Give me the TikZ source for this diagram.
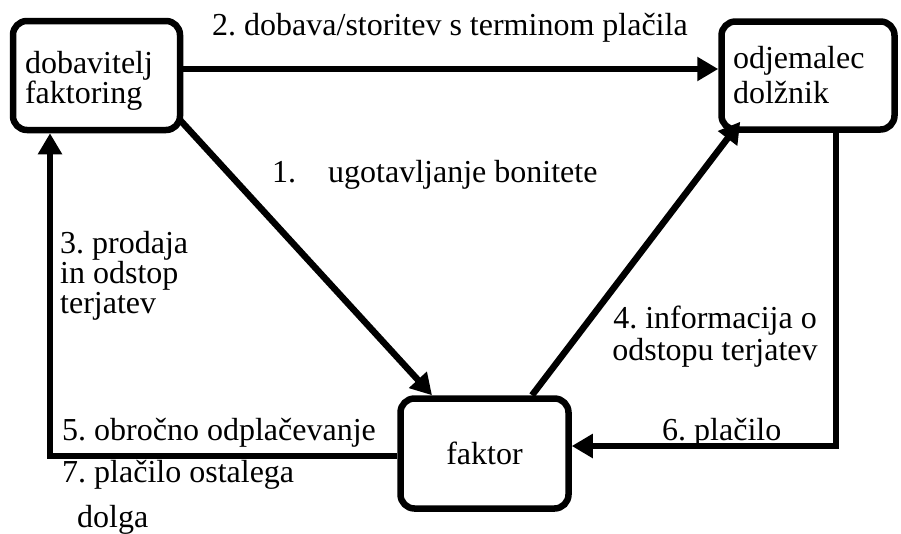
\documentclass[tikz,border=0pt]{standalone}
\usepackage{fontspec}
\setmainfont{Liberation Serif}
\usetikzlibrary{arrows.meta}
\frenchspacing
\begin{document}
\begin{tikzpicture}[x=1pt,y=-1pt,
  box/.style={draw=black, line width=6.5pt, rounded corners=14pt, inner ysep=0pt},
  arr/.style={line width=6.5pt, -{Triangle[length=21pt,width=23pt]}},
  lbl/.style={inner sep=0pt, anchor=base west, align=left},
  every node/.style={font=\fontsize{32}{30}\selectfont}]
\useasboundingbox (0,0) rectangle (901,533);
% boxes
\node[box, minimum width=167pt, minimum height=109pt, text width=143pt, inner xsep=12pt, align=left,
      font=\fontsize{32}{27}\selectfont] (b1) at (96.5,75.5)
      {\raisebox{-6pt}[\height][\depth]{\begin{tabular}{@{}l@{}}dobavitelj\\faktoring\end{tabular}}};
\node[box, minimum width=173pt, minimum height=108pt, text width=150pt, inner xsep=11.5pt, align=left,
      font=\fontsize{32}{35}\selectfont] (b2) at (808,75.5) {odjemalec\\dolžnik};
\node[box, minimum width=168pt, minimum height=110pt] (b3) at (484.5,453.5) {faktor};
% helper levels
\coordinate (k2) at (0,69);
\coordinate (k5) at (50,456);
\coordinate (k6) at (836,446);
% connectors
\draw[arr] (b1.east |- k2) -- (b2.west |- k2);
\draw[arr] ([shift={(-3,-13)}]b1.south east) -- ([xshift=-52.5]b3.north);
\draw[arr] ([xshift=47.5]b3.north) -- ([shift={(22,-11)}]b2.south west);
\draw[arr] (b3.west |- k5) -| (b1.south -| k5);
\draw[arr] (b2.south -| k6) |- (b3.east |- k6);
% labels
\node[lbl] (t2) at (212,35) {2. dobava/storitev s terminom plačila};
\node[lbl] (t1) at (272,182) {1.\hspace{32pt}ugotavljanje bonitete};
\node[lbl, font=\fontsize{32}{30}\selectfont] (t3) at (60,313) {3. prodaja\\in odstop\\terjatev};
\node[inner sep=0pt, anchor=base, align=center, font=\fontsize{32}{32}\selectfont] (t4) at (715,360) {4. informacija o\\odstopu terjatev};
\node[lbl] (t5) at (62,440) {5. obročno odplačevanje};
\node[lbl] (t6) at (662,440) {6. plačilo};
\node[lbl, font=\fontsize{32}{45}\selectfont] (t7) at (62,527) {7. plačilo ostalega\\\hspace*{15pt}dolga};
\end{tikzpicture}
\end{document}
